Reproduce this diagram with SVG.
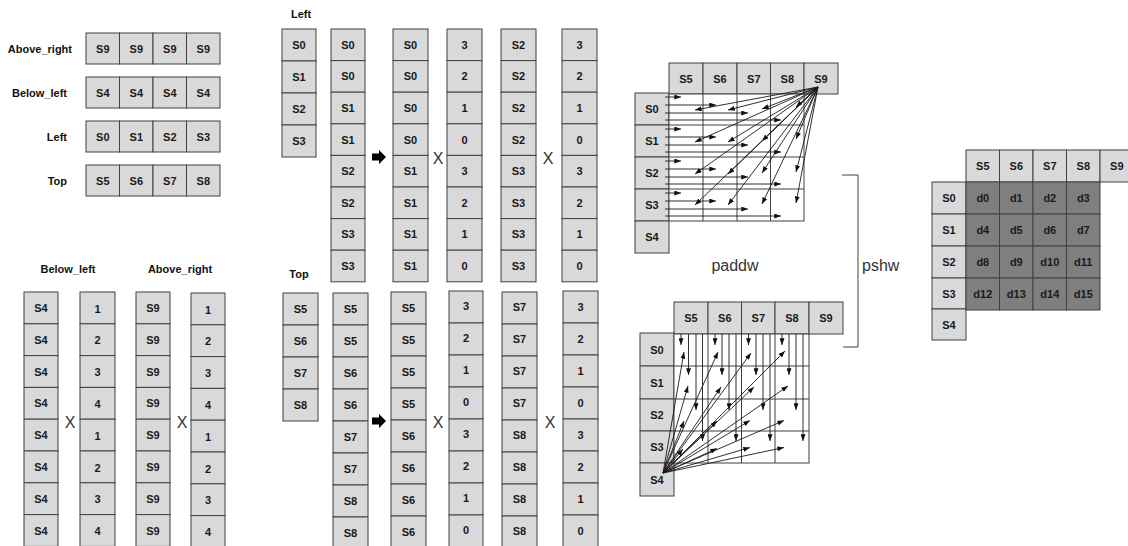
<svg xmlns="http://www.w3.org/2000/svg" width="1128" height="546" viewBox="0 0 1128 546">
<defs>
<style>
.c{fill:#d9d9d9;stroke:#404040;stroke-width:1}
.d{fill:#7f7f7f;stroke:#404040;stroke-width:1}
.w{fill:#fff;stroke:#404040;stroke-width:1}
.g{stroke:#404040;stroke-width:1;fill:none}
.t{font-family:"Liberation Sans",Arial,sans-serif;font-weight:bold;font-size:11px;fill:#1a1a1a;text-anchor:middle;dominant-baseline:central}
.lb{font-family:"Liberation Sans",Arial,sans-serif;font-weight:bold;font-size:11px;fill:#111;text-anchor:end;dominant-baseline:central}
.lc{font-family:"Liberation Sans",Arial,sans-serif;font-weight:bold;font-size:11px;fill:#111;text-anchor:middle;dominant-baseline:central}
.x{font-family:"Liberation Sans",Arial,sans-serif;font-size:16px;fill:#333;text-anchor:middle;dominant-baseline:central}
.big{font-family:"Liberation Sans",Arial,sans-serif;font-size:16px;fill:#333;dominant-baseline:central}
.a{stroke:#1a1a1a;stroke-width:0.9;fill:none;marker-end:url(#ah)}
</style>
<marker id="ah" viewBox="0 0 8 6" refX="8" refY="3" markerWidth="7" markerHeight="5" markerUnits="userSpaceOnUse" orient="auto"><path d="M0,0 L8,3 L0,6 z" fill="#111"/></marker>
</defs>
<rect width="1128" height="546" fill="#fff"/>

<!-- Top-left rows -->
<g id="row_above_right">
<text class="lb" x="72" y="48.5">Above_right</text>
<rect class="c" x="86" y="33" width="33.5" height="31"/><rect class="c" x="119.5" y="33" width="33.5" height="31"/><rect class="c" x="153" y="33" width="33.5" height="31"/><rect class="c" x="186.5" y="33" width="33.5" height="31"/>
<text class="t" x="102.8" y="48.5">S9</text><text class="t" x="136.3" y="48.5">S9</text><text class="t" x="169.8" y="48.5">S9</text><text class="t" x="203.3" y="48.5">S9</text>
</g>
<g id="row_below_left">
<text class="lb" x="67" y="92.5">Below_left</text>
<rect class="c" x="86" y="77" width="33.5" height="31"/><rect class="c" x="119.5" y="77" width="33.5" height="31"/><rect class="c" x="153" y="77" width="33.5" height="31"/><rect class="c" x="186.5" y="77" width="33.5" height="31"/>
<text class="t" x="102.8" y="92.5">S4</text><text class="t" x="136.3" y="92.5">S4</text><text class="t" x="169.8" y="92.5">S4</text><text class="t" x="203.3" y="92.5">S4</text>
</g>
<g id="row_left">
<text class="lb" x="67" y="136.5">Left</text>
<rect class="c" x="86" y="121" width="33.5" height="31"/><rect class="c" x="119.5" y="121" width="33.5" height="31"/><rect class="c" x="153" y="121" width="33.5" height="31"/><rect class="c" x="186.5" y="121" width="33.5" height="31"/>
<text class="t" x="102.8" y="136.5">S0</text><text class="t" x="136.3" y="136.5">S1</text><text class="t" x="169.8" y="136.5">S2</text><text class="t" x="203.3" y="136.5">S3</text>
</g>
<g id="row_top">
<text class="lb" x="67" y="180.5">Top</text>
<rect class="c" x="86" y="165" width="33.5" height="31"/><rect class="c" x="119.5" y="165" width="33.5" height="31"/><rect class="c" x="153" y="165" width="33.5" height="31"/><rect class="c" x="186.5" y="165" width="33.5" height="31"/>
<text class="t" x="102.8" y="180.5">S5</text><text class="t" x="136.3" y="180.5">S6</text><text class="t" x="169.8" y="180.5">S7</text><text class="t" x="203.3" y="180.5">S8</text>
</g>

<!-- Bottom-left columns -->
<g id="bl_labels">
<text class="lc" x="68" y="269">Below_left</text>
<text class="lc" x="180" y="269">Above_right</text>
<text class="x" x="70" y="422">X</text>
<text class="x" x="182" y="422">X</text>
</g>
<g id="col_below_left">
<rect class="c" x="24" y="292" width="34" height="31.8"/><rect class="c" x="24" y="323.8" width="34" height="31.8"/><rect class="c" x="24" y="355.6" width="34" height="31.8"/><rect class="c" x="24" y="387.4" width="34" height="31.8"/><rect class="c" x="24" y="419.2" width="34" height="31.8"/><rect class="c" x="24" y="451" width="34" height="31.8"/><rect class="c" x="24" y="482.8" width="34" height="31.8"/><rect class="c" x="24" y="514.6" width="34" height="31.8"/>
<text class="t" x="41" y="307.9">S4</text><text class="t" x="41" y="339.7">S4</text><text class="t" x="41" y="371.5">S4</text><text class="t" x="41" y="403.3">S4</text><text class="t" x="41" y="435.1">S4</text><text class="t" x="41" y="466.9">S4</text><text class="t" x="41" y="498.7">S4</text><text class="t" x="41" y="530.5">S4</text>
</g>
<g id="col_bl_weights">
<rect class="c" x="80" y="292" width="35" height="31.8"/><rect class="c" x="80" y="323.8" width="35" height="31.8"/><rect class="c" x="80" y="355.6" width="35" height="31.8"/><rect class="c" x="80" y="387.4" width="35" height="31.8"/><rect class="c" x="80" y="419.2" width="35" height="31.8"/><rect class="c" x="80" y="451" width="35" height="31.8"/><rect class="c" x="80" y="482.8" width="35" height="31.8"/><rect class="c" x="80" y="514.6" width="35" height="31.8"/>
<text class="t" x="97.5" y="308.5">1</text><text class="t" x="97.5" y="340.3">2</text><text class="t" x="97.5" y="372.1">3</text><text class="t" x="97.5" y="403.9">4</text><text class="t" x="97.5" y="435.7">1</text><text class="t" x="97.5" y="467.5">2</text><text class="t" x="97.5" y="499.3">3</text><text class="t" x="97.5" y="531.1">4</text>
</g>
<g id="col_above_right">
<rect class="c" x="136" y="292" width="34" height="31.8"/><rect class="c" x="136" y="323.8" width="34" height="31.8"/><rect class="c" x="136" y="355.6" width="34" height="31.8"/><rect class="c" x="136" y="387.4" width="34" height="31.8"/><rect class="c" x="136" y="419.2" width="34" height="31.8"/><rect class="c" x="136" y="451" width="34" height="31.8"/><rect class="c" x="136" y="482.8" width="34" height="31.8"/><rect class="c" x="136" y="514.6" width="34" height="31.8"/>
<text class="t" x="153" y="307.9">S9</text><text class="t" x="153" y="339.7">S9</text><text class="t" x="153" y="371.5">S9</text><text class="t" x="153" y="403.3">S9</text><text class="t" x="153" y="435.1">S9</text><text class="t" x="153" y="466.9">S9</text><text class="t" x="153" y="498.7">S9</text><text class="t" x="153" y="530.5">S9</text>
</g>
<g id="col_ar_weights">
<rect class="c" x="191" y="293" width="34" height="31.8"/><rect class="c" x="191" y="324.8" width="34" height="31.8"/><rect class="c" x="191" y="356.6" width="34" height="31.8"/><rect class="c" x="191" y="388.4" width="34" height="31.8"/><rect class="c" x="191" y="420.2" width="34" height="31.8"/><rect class="c" x="191" y="452" width="34" height="31.8"/><rect class="c" x="191" y="483.8" width="34" height="31.8"/><rect class="c" x="191" y="515.6" width="34" height="31.8"/>
<text class="t" x="208" y="309.5">1</text><text class="t" x="208" y="341.3">2</text><text class="t" x="208" y="373.1">3</text><text class="t" x="208" y="404.9">4</text><text class="t" x="208" y="436.7">1</text><text class="t" x="208" y="468.5">2</text><text class="t" x="208" y="500.3">3</text><text class="t" x="208" y="532.1">4</text>
</g>

<!-- Middle top (Left) -->
<g id="mt_labels">
<text class="lc" x="301" y="14">Left</text>
<text class="x" x="438" y="158">X</text>
<text class="x" x="548" y="158">X</text>
</g>
<g id="mt_left">
<rect class="c" x="282" y="29" width="34" height="32"/><rect class="c" x="282" y="61" width="34" height="32"/><rect class="c" x="282" y="93" width="34" height="32"/><rect class="c" x="282" y="125" width="34" height="32"/>
<text class="t" x="299" y="45">S0</text><text class="t" x="299" y="77">S1</text><text class="t" x="299" y="109">S2</text><text class="t" x="299" y="141">S3</text>
</g>
<g id="mt_col2">
<rect class="c" x="331" y="29" width="34" height="31.6"/><rect class="c" x="331" y="60.6" width="34" height="31.6"/><rect class="c" x="331" y="92.2" width="34" height="31.6"/><rect class="c" x="331" y="123.8" width="34" height="31.6"/><rect class="c" x="331" y="155.4" width="34" height="31.6"/><rect class="c" x="331" y="187" width="34" height="31.6"/><rect class="c" x="331" y="218.6" width="34" height="31.6"/><rect class="c" x="331" y="250.2" width="34" height="31.6"/>
<text class="t" x="348" y="44.8">S0</text><text class="t" x="348" y="76.4">S0</text><text class="t" x="348" y="108">S1</text><text class="t" x="348" y="139.6">S1</text><text class="t" x="348" y="171.2">S2</text><text class="t" x="348" y="202.8">S2</text><text class="t" x="348" y="234.4">S3</text><text class="t" x="348" y="266">S3</text>
</g>
<g id="mt_col3">
<rect class="c" x="393" y="29" width="35" height="31.6"/><rect class="c" x="393" y="60.6" width="35" height="31.6"/><rect class="c" x="393" y="92.2" width="35" height="31.6"/><rect class="c" x="393" y="123.8" width="35" height="31.6"/><rect class="c" x="393" y="155.4" width="35" height="31.6"/><rect class="c" x="393" y="187" width="35" height="31.6"/><rect class="c" x="393" y="218.6" width="35" height="31.6"/><rect class="c" x="393" y="250.2" width="35" height="31.6"/>
<text class="t" x="410.5" y="44.8">S0</text><text class="t" x="410.5" y="76.4">S0</text><text class="t" x="410.5" y="108">S0</text><text class="t" x="410.5" y="139.6">S0</text><text class="t" x="410.5" y="171.2">S1</text><text class="t" x="410.5" y="202.8">S1</text><text class="t" x="410.5" y="234.4">S1</text><text class="t" x="410.5" y="266">S1</text>
</g>
<g id="mt_col4">
<rect class="c" x="447" y="29" width="35" height="31.6"/><rect class="c" x="447" y="60.6" width="35" height="31.6"/><rect class="c" x="447" y="92.2" width="35" height="31.6"/><rect class="c" x="447" y="123.8" width="35" height="31.6"/><rect class="c" x="447" y="155.4" width="35" height="31.6"/><rect class="c" x="447" y="187" width="35" height="31.6"/><rect class="c" x="447" y="218.6" width="35" height="31.6"/><rect class="c" x="447" y="250.2" width="35" height="31.6"/>
<text class="t" x="464.5" y="44.8">3</text><text class="t" x="464.5" y="76.4">2</text><text class="t" x="464.5" y="108">1</text><text class="t" x="464.5" y="139.6">0</text><text class="t" x="464.5" y="171.2">3</text><text class="t" x="464.5" y="202.8">2</text><text class="t" x="464.5" y="234.4">1</text><text class="t" x="464.5" y="266">0</text>
</g>
<g id="mt_col5">
<rect class="c" x="501" y="29" width="35" height="31.6"/><rect class="c" x="501" y="60.6" width="35" height="31.6"/><rect class="c" x="501" y="92.2" width="35" height="31.6"/><rect class="c" x="501" y="123.8" width="35" height="31.6"/><rect class="c" x="501" y="155.4" width="35" height="31.6"/><rect class="c" x="501" y="187" width="35" height="31.6"/><rect class="c" x="501" y="218.6" width="35" height="31.6"/><rect class="c" x="501" y="250.2" width="35" height="31.6"/>
<text class="t" x="518.5" y="44.8">S2</text><text class="t" x="518.5" y="76.4">S2</text><text class="t" x="518.5" y="108">S2</text><text class="t" x="518.5" y="139.6">S2</text><text class="t" x="518.5" y="171.2">S3</text><text class="t" x="518.5" y="202.8">S3</text><text class="t" x="518.5" y="234.4">S3</text><text class="t" x="518.5" y="266">S3</text>
</g>
<g id="mt_col6">
<rect class="c" x="562" y="29" width="35" height="31.6"/><rect class="c" x="562" y="60.6" width="35" height="31.6"/><rect class="c" x="562" y="92.2" width="35" height="31.6"/><rect class="c" x="562" y="123.8" width="35" height="31.6"/><rect class="c" x="562" y="155.4" width="35" height="31.6"/><rect class="c" x="562" y="187" width="35" height="31.6"/><rect class="c" x="562" y="218.6" width="35" height="31.6"/><rect class="c" x="562" y="250.2" width="35" height="31.6"/>
<text class="t" x="579.5" y="44.8">3</text><text class="t" x="579.5" y="76.4">2</text><text class="t" x="579.5" y="108">1</text><text class="t" x="579.5" y="139.6">0</text><text class="t" x="579.5" y="171.2">3</text><text class="t" x="579.5" y="202.8">2</text><text class="t" x="579.5" y="234.4">1</text><text class="t" x="579.5" y="266">0</text>
</g>

<!-- Middle bottom (Top) -->
<g id="mb_labels">
<text class="lc" x="299" y="274">Top</text>
<text class="x" x="438" y="422">X</text>
<text class="x" x="550" y="422">X</text>
</g>
<g id="mb_top">
<rect class="c" x="283" y="293" width="35" height="32"/><rect class="c" x="283" y="325" width="35" height="32"/><rect class="c" x="283" y="357" width="35" height="32"/><rect class="c" x="283" y="389" width="35" height="32"/>
<text class="t" x="300.5" y="309">S5</text><text class="t" x="300.5" y="341">S6</text><text class="t" x="300.5" y="373">S7</text><text class="t" x="300.5" y="405">S8</text>
</g>
<g id="mb_col2">
<rect class="c" x="333" y="293" width="35" height="32"/><rect class="c" x="333" y="325" width="35" height="32"/><rect class="c" x="333" y="357" width="35" height="32"/><rect class="c" x="333" y="389" width="35" height="32"/><rect class="c" x="333" y="421" width="35" height="32"/><rect class="c" x="333" y="453" width="35" height="32"/><rect class="c" x="333" y="485" width="35" height="32"/><rect class="c" x="333" y="517" width="35" height="32"/>
<text class="t" x="350.5" y="309">S5</text><text class="t" x="350.5" y="341">S5</text><text class="t" x="350.5" y="373">S6</text><text class="t" x="350.5" y="405">S6</text><text class="t" x="350.5" y="437">S7</text><text class="t" x="350.5" y="469">S7</text><text class="t" x="350.5" y="501">S8</text><text class="t" x="350.5" y="533">S8</text>
</g>
<g id="mb_col3">
<rect class="c" x="391" y="292" width="35" height="32"/><rect class="c" x="391" y="324" width="35" height="32"/><rect class="c" x="391" y="356" width="35" height="32"/><rect class="c" x="391" y="388" width="35" height="32"/><rect class="c" x="391" y="420" width="35" height="32"/><rect class="c" x="391" y="452" width="35" height="32"/><rect class="c" x="391" y="484" width="35" height="32"/><rect class="c" x="391" y="516" width="35" height="32"/>
<text class="t" x="408.5" y="308">S5</text><text class="t" x="408.5" y="340">S5</text><text class="t" x="408.5" y="372">S5</text><text class="t" x="408.5" y="404">S5</text><text class="t" x="408.5" y="436">S6</text><text class="t" x="408.5" y="468">S6</text><text class="t" x="408.5" y="500">S6</text><text class="t" x="408.5" y="532">S6</text>
</g>
<g id="mb_col4">
<rect class="c" x="449" y="291" width="34" height="32"/><rect class="c" x="449" y="323" width="34" height="32"/><rect class="c" x="449" y="355" width="34" height="32"/><rect class="c" x="449" y="387" width="34" height="32"/><rect class="c" x="449" y="419" width="34" height="32"/><rect class="c" x="449" y="451" width="34" height="32"/><rect class="c" x="449" y="483" width="34" height="32"/><rect class="c" x="449" y="515" width="34" height="32"/>
<text class="t" x="466" y="306">3</text><text class="t" x="466" y="338">2</text><text class="t" x="466" y="370">1</text><text class="t" x="466" y="402">0</text><text class="t" x="466" y="434">3</text><text class="t" x="466" y="466">2</text><text class="t" x="466" y="498">1</text><text class="t" x="466" y="530">0</text>
</g>
<g id="mb_col5">
<rect class="c" x="502" y="292" width="35" height="32"/><rect class="c" x="502" y="324" width="35" height="32"/><rect class="c" x="502" y="356" width="35" height="32"/><rect class="c" x="502" y="388" width="35" height="32"/><rect class="c" x="502" y="420" width="35" height="32"/><rect class="c" x="502" y="452" width="35" height="32"/><rect class="c" x="502" y="484" width="35" height="32"/><rect class="c" x="502" y="516" width="35" height="32"/>
<text class="t" x="519.5" y="307">S7</text><text class="t" x="519.5" y="339">S7</text><text class="t" x="519.5" y="371">S7</text><text class="t" x="519.5" y="403">S7</text><text class="t" x="519.5" y="435">S8</text><text class="t" x="519.5" y="467">S8</text><text class="t" x="519.5" y="499">S8</text><text class="t" x="519.5" y="531">S8</text>
</g>
<g id="mb_col6">
<rect class="c" x="563" y="291" width="35" height="32"/><rect class="c" x="563" y="323" width="35" height="32"/><rect class="c" x="563" y="355" width="35" height="32"/><rect class="c" x="563" y="387" width="35" height="32"/><rect class="c" x="563" y="419" width="35" height="32"/><rect class="c" x="563" y="451" width="35" height="32"/><rect class="c" x="563" y="483" width="35" height="32"/><rect class="c" x="563" y="515" width="35" height="32"/>
<text class="t" x="580.5" y="307">3</text><text class="t" x="580.5" y="339">2</text><text class="t" x="580.5" y="371">1</text><text class="t" x="580.5" y="403">0</text><text class="t" x="580.5" y="435">3</text><text class="t" x="580.5" y="467">2</text><text class="t" x="580.5" y="499">1</text><text class="t" x="580.5" y="531">0</text>
</g>

<!-- paddw diagram -->
<g id="paddw">
<rect class="c" x="669" y="63" width="34" height="31"/><rect class="c" x="703" y="63" width="34" height="31"/><rect class="c" x="737" y="63" width="33.5" height="31"/><rect class="c" x="770.5" y="63" width="33.5" height="31"/><rect class="c" x="804" y="63" width="34" height="31"/>
<text class="t" x="686" y="78.5">S5</text><text class="t" x="720" y="78.5">S6</text><text class="t" x="753.8" y="78.5">S7</text><text class="t" x="787.3" y="78.5">S8</text><text class="t" x="821" y="78.5">S9</text>
<rect class="c" x="635" y="93" width="34" height="32"/><rect class="c" x="635" y="125" width="34" height="32"/><rect class="c" x="635" y="157" width="34" height="32"/><rect class="c" x="635" y="189" width="34" height="32"/><rect class="c" x="635" y="221" width="34" height="32"/>
<text class="t" x="652" y="109">S0</text><text class="t" x="652" y="141">S1</text><text class="t" x="652" y="173">S2</text><text class="t" x="652" y="205">S3</text><text class="t" x="652" y="237">S4</text>
<rect class="w" x="669" y="94" width="135" height="127"/>
<path class="g" d="M703,94V221M737,94V221M770.5,94V221M669,125H804M669,157H804M669,189H804"/>
<text class="big" x="735" y="265" text-anchor="middle">paddw</text>
</g>

<!-- pshw diagram -->
<g id="pshw">
<rect class="c" x="674" y="302" width="34" height="32"/><rect class="c" x="708" y="302" width="33.5" height="32"/><rect class="c" x="741.5" y="302" width="33.5" height="32"/><rect class="c" x="775" y="302" width="34" height="32"/><rect class="c" x="809" y="302" width="34" height="32"/>
<text class="t" x="691" y="318">S5</text><text class="t" x="724.8" y="318">S6</text><text class="t" x="758.3" y="318">S7</text><text class="t" x="792" y="318">S8</text><text class="t" x="826" y="318">S9</text>
<rect class="c" x="640" y="333" width="34" height="33"/><rect class="c" x="640" y="366" width="34" height="33"/><rect class="c" x="640" y="399" width="34" height="32"/><rect class="c" x="640" y="431" width="34" height="32"/><rect class="c" x="640" y="463" width="34" height="33"/>
<text class="t" x="657" y="349.5">S0</text><text class="t" x="657" y="382.5">S1</text><text class="t" x="657" y="415">S2</text><text class="t" x="657" y="447">S3</text><text class="t" x="657" y="479.5">S4</text>
<rect class="w" x="674" y="334" width="135" height="129"/>
<path class="g" d="M708,334V463M741.5,334V463M775,334V463M674,366H809M674,399H809M674,431H809"/>
</g>

<!-- pshw bracket + label -->
<g id="pshw_label">
<path class="g" d="M842,175H858V347H843"/>
<text class="big" x="862" y="265">pshw</text>
</g>

<!-- result grid -->
<g id="result">
<rect class="c" x="966" y="150" width="33.5" height="32"/><rect class="c" x="999.5" y="150" width="33.5" height="32"/><rect class="c" x="1033" y="150" width="33.5" height="32"/><rect class="c" x="1066.5" y="150" width="33.5" height="32"/><rect class="c" x="1100" y="150" width="33.5" height="32"/>
<text class="t" x="982.8" y="166">S5</text><text class="t" x="1016.3" y="166">S6</text><text class="t" x="1049.8" y="166">S7</text><text class="t" x="1083.3" y="166">S8</text><text class="t" x="1116.8" y="166">S9</text>
<rect class="c" x="932" y="182" width="34" height="32"/><rect class="c" x="932" y="214" width="34" height="32"/><rect class="c" x="932" y="246" width="34" height="32"/><rect class="c" x="932" y="278" width="34" height="31"/><rect class="c" x="932" y="309" width="34" height="31"/>
<text class="t" x="949" y="198">S0</text><text class="t" x="949" y="230">S1</text><text class="t" x="949" y="262">S2</text><text class="t" x="949" y="293.5">S3</text><text class="t" x="949" y="324.5">S4</text>
<rect class="d" x="966" y="182" width="33.5" height="32"/><rect class="d" x="999.5" y="182" width="33.5" height="32"/><rect class="d" x="1033" y="182" width="33.5" height="32"/><rect class="d" x="1066.5" y="182" width="33.5" height="32"/>
<rect class="d" x="966" y="214" width="33.5" height="32"/><rect class="d" x="999.5" y="214" width="33.5" height="32"/><rect class="d" x="1033" y="214" width="33.5" height="32"/><rect class="d" x="1066.5" y="214" width="33.5" height="32"/>
<rect class="d" x="966" y="246" width="33.5" height="32"/><rect class="d" x="999.5" y="246" width="33.5" height="32"/><rect class="d" x="1033" y="246" width="33.5" height="32"/><rect class="d" x="1066.5" y="246" width="33.5" height="32"/>
<rect class="d" x="966" y="278" width="33.5" height="32"/><rect class="d" x="999.5" y="278" width="33.5" height="32"/><rect class="d" x="1033" y="278" width="33.5" height="32"/><rect class="d" x="1066.5" y="278" width="33.5" height="32"/>
<text class="t" x="982.8" y="198">d0</text><text class="t" x="1016.3" y="198">d1</text><text class="t" x="1049.8" y="198">d2</text><text class="t" x="1083.3" y="198">d3</text>
<text class="t" x="982.8" y="230">d4</text><text class="t" x="1016.3" y="230">d5</text><text class="t" x="1049.8" y="230">d6</text><text class="t" x="1083.3" y="230">d7</text>
<text class="t" x="982.8" y="262">d8</text><text class="t" x="1016.3" y="262">d9</text><text class="t" x="1049.8" y="262">d10</text><text class="t" x="1083.3" y="262">d11</text>
<text class="t" x="982.8" y="294">d12</text><text class="t" x="1016.3" y="294">d13</text><text class="t" x="1049.8" y="294">d14</text><text class="t" x="1083.3" y="294">d15</text>
</g>

<g id="connectors">
<!-- block arrows -->
<path d="M372,153.5H379V150L386,157L379,164V160.5H372Z" fill="#000"/>
<path d="M372,417.5H379V414L386,421L379,428V424.5H372Z" fill="#000"/>
<!-- paddw horizontal -->
<line class="a" x1="665" y1="97" x2="681" y2="97"/><line class="a" x1="665" y1="105" x2="716" y2="105"/><line class="a" x1="665" y1="113" x2="748" y2="113"/><line class="a" x1="665" y1="120" x2="781" y2="120"/>
<line class="a" x1="665" y1="129" x2="681" y2="129"/><line class="a" x1="665" y1="137" x2="716" y2="137"/><line class="a" x1="665" y1="145" x2="748" y2="145"/><line class="a" x1="665" y1="152" x2="781" y2="152"/>
<line class="a" x1="665" y1="161" x2="681" y2="161"/><line class="a" x1="665" y1="169" x2="716" y2="169"/><line class="a" x1="665" y1="177" x2="748" y2="177"/><line class="a" x1="665" y1="184" x2="781" y2="184"/>
<line class="a" x1="665" y1="193" x2="681" y2="193"/><line class="a" x1="665" y1="201" x2="716" y2="201"/><line class="a" x1="665" y1="209" x2="748" y2="209"/><line class="a" x1="665" y1="216" x2="781" y2="216"/>
<!-- paddw diagonals from S9 -->
<line class="a" x1="818" y1="87" x2="695" y2="110"/><line class="a" x1="818" y1="87" x2="728" y2="110"/><line class="a" x1="818" y1="87" x2="762" y2="109"/><line class="a" x1="818" y1="87" x2="796" y2="107"/>
<line class="a" x1="818" y1="87" x2="695" y2="142"/><line class="a" x1="818" y1="87" x2="728" y2="142"/><line class="a" x1="818" y1="87" x2="762" y2="141"/><line class="a" x1="818" y1="87" x2="796" y2="139"/>
<line class="a" x1="818" y1="87" x2="695" y2="174"/><line class="a" x1="818" y1="87" x2="728" y2="174"/><line class="a" x1="818" y1="87" x2="762" y2="173"/><line class="a" x1="818" y1="87" x2="796" y2="172"/>
<line class="a" x1="818" y1="87" x2="695" y2="205"/><line class="a" x1="818" y1="87" x2="728" y2="205"/><line class="a" x1="818" y1="87" x2="762" y2="204"/><line class="a" x1="818" y1="87" x2="796" y2="203"/>
<!-- pshw verticals -->
<line class="a" x1="681" y1="334" x2="681" y2="345"/><line class="a" x1="688.5" y1="334" x2="688.5" y2="375"/><line class="a" x1="696" y1="334" x2="696" y2="410"/><line class="a" x1="702.5" y1="334" x2="702.5" y2="441"/>
<line class="a" x1="715" y1="334" x2="715" y2="345"/><line class="a" x1="722" y1="334" x2="722" y2="375"/><line class="a" x1="729" y1="334" x2="729" y2="410"/><line class="a" x1="736" y1="334" x2="736" y2="441"/>
<line class="a" x1="748.5" y1="334" x2="748.5" y2="345"/><line class="a" x1="756" y1="334" x2="756" y2="375"/><line class="a" x1="763" y1="334" x2="763" y2="410"/><line class="a" x1="770" y1="334" x2="770" y2="441"/>
<line class="a" x1="782" y1="334" x2="782" y2="345"/><line class="a" x1="789" y1="334" x2="789" y2="375"/><line class="a" x1="796" y1="334" x2="796" y2="410"/><line class="a" x1="803" y1="334" x2="803" y2="441"/>
<!-- pshw diagonals from S4 -->
<line class="a" x1="663" y1="473" x2="684" y2="352"/><line class="a" x1="663" y1="473" x2="718" y2="352"/><line class="a" x1="663" y1="473" x2="751" y2="353"/><line class="a" x1="663" y1="473" x2="785" y2="351"/>
<line class="a" x1="663" y1="473" x2="688" y2="386"/><line class="a" x1="663" y1="473" x2="721" y2="387"/><line class="a" x1="663" y1="473" x2="754" y2="387"/><line class="a" x1="663" y1="473" x2="788" y2="386"/>
<line class="a" x1="663" y1="473" x2="684" y2="421"/><line class="a" x1="663" y1="473" x2="717" y2="421"/><line class="a" x1="663" y1="473" x2="750" y2="420.5"/><line class="a" x1="663" y1="473" x2="784" y2="420.5"/>
<line class="a" x1="663" y1="473" x2="683" y2="449"/><line class="a" x1="663" y1="473" x2="717" y2="448.5"/><line class="a" x1="663" y1="473" x2="750" y2="447.5"/><line class="a" x1="663" y1="473" x2="784" y2="447.5"/>
</g>
</svg>
